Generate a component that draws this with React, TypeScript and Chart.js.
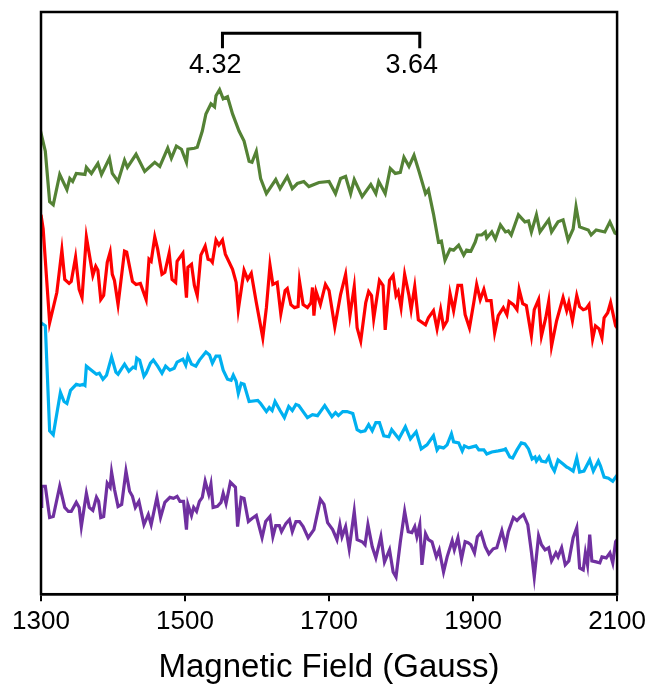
import React, { useEffect, useRef } from "react";
import { Chart, registerables } from "chart.js";

Chart.register(...registerables);

const xTicks = [1300, 1500, 1700, 1900, 2100];
const axisTitle = "Magnetic Field (Gauss)";

const greenField = [
  1300, 1301, 1306, 1312, 1317, 1326, 1336, 1340, 1344, 1349, 1361, 1363,
  1370, 1379, 1384, 1395, 1399, 1407, 1416, 1420, 1432, 1444,
  1458, 1465, 1476, 1481, 1488, 1495, 1502, 1504, 1513, 1517,
  1524, 1529, 1536, 1541, 1543, 1548, 1553, 1559, 1566, 1575,
  1582, 1589, 1593, 1599, 1605, 1613, 1626, 1632, 1642, 1649,
  1656, 1665, 1672, 1686, 1700, 1709, 1716, 1723, 1730, 1735,
  1746, 1758, 1765, 1769, 1778, 1785, 1792, 1799, 1804, 1811,
  1818, 1825, 1834, 1838, 1845, 1852, 1856, 1861, 1868, 1873,
  1880, 1887, 1891, 1897, 1903, 1906, 1912, 1917, 1919, 1926,
  1931, 1938, 1945, 1949, 1953, 1963, 1972, 1977, 1981, 1988,
  1993, 2005, 2009, 2018, 2025, 2032, 2039, 2043, 2048, 2060,
  2064, 2071, 2083, 2090, 2097, 2100,
];
const greenSignal = [
  449, 454, 439, 389, 386, 416, 401, 412, 409, 417, 416, 423,
  417, 427, 416, 432, 417, 409, 430, 423, 436, 419,
  428, 424, 442, 432, 444, 441, 428, 441, 442, 443,
  459, 476, 486, 483, 494, 500, 491, 493, 476, 459,
  449, 429, 428, 439, 412, 397, 411, 402, 414, 402,
  407, 409, 404, 408, 409, 397, 412, 414, 397, 411,
  394, 406, 397, 409, 397, 422, 417, 418, 433, 424,
  435, 419, 397, 401, 377, 349, 350, 331, 342, 341,
  346, 336, 341, 340, 349, 356, 356, 359, 353, 359,
  352, 366, 359, 360, 356, 376, 369, 370, 359, 376,
  359, 371, 359, 369, 371, 351, 362, 384, 364, 361,
  356, 361, 359, 369, 358, 357,
];

const redField = [
  1300, 1303, 1312, 1322, 1329, 1333, 1339, 1342, 1348, 1353,
  1357, 1363, 1372, 1376, 1379, 1383, 1387, 1392, 1396, 1399,
  1402, 1407, 1416, 1419, 1427, 1432, 1438, 1446, 1450, 1453,
  1458, 1462, 1468, 1472, 1478, 1482, 1487, 1489, 1497, 1502,
  1504, 1509, 1513, 1517, 1522, 1528, 1532, 1536, 1538, 1543,
  1547, 1552, 1556, 1566, 1571, 1574, 1582, 1587, 1592, 1599,
  1608, 1613, 1618, 1622, 1628, 1633, 1639, 1642, 1647, 1652,
  1657, 1659, 1664, 1670, 1675, 1677, 1679, 1682, 1688, 1695,
  1700, 1708, 1716, 1723, 1729, 1735, 1739, 1744, 1751, 1755,
  1759, 1762, 1770, 1775, 1778, 1784, 1789, 1793, 1796, 1800,
  1805, 1811, 1814, 1819, 1824, 1834, 1838, 1845, 1850, 1855,
  1859, 1864, 1868, 1873, 1879, 1884, 1889, 1895, 1901, 1905,
  1910, 1915, 1919, 1925, 1930, 1935, 1942, 1947, 1950, 1956,
  1961, 1964, 1969, 1974, 1981, 1985, 1991, 1995, 2001, 2005,
  2009, 2016, 2025, 2030, 2033, 2038, 2044, 2048, 2053, 2057,
  2061, 2066, 2070, 2075, 2079, 2082, 2087, 2091, 2098, 2100,
];
const redSignal = [
  376, 362, 269, 299, 341, 312, 308, 310, 334, 302,
  294, 354, 316, 325, 321, 292, 296, 329, 339, 317,
  311, 287, 340, 339, 310, 307, 308, 292, 332, 330,
  354, 342, 317, 319, 338, 312, 309, 330, 338, 294,
  324, 327, 306, 296, 336, 345, 332, 331, 329, 351,
  346, 351, 337, 322, 309, 282, 321, 312, 318, 289,
  254, 284, 326, 307, 309, 278, 301, 303, 287, 284,
  285, 310, 287, 284, 289, 304, 276, 300, 287, 307,
  301, 265, 297, 317, 276, 305, 264, 251, 289, 300,
  296, 273, 311, 306, 262, 311, 316, 296, 300, 284,
  317, 296, 282, 305, 272, 267, 274, 281, 263, 282,
  265, 271, 298, 281, 306, 306, 277, 264, 289, 307,
  292, 302, 291, 291, 259, 276, 284, 277, 290, 287,
  282, 302, 288, 286, 256, 282, 292, 256, 274, 290,
  246, 271, 294, 281, 289, 271, 296, 285, 282, 283,
  287, 253, 266, 263, 254, 274, 279, 289, 266, 264,
];

const cyanField = [
  1300, 1306, 1312, 1317, 1322, 1327, 1332, 1336, 1341, 1349,
  1354, 1359, 1361, 1363, 1370, 1377, 1381, 1386, 1391, 1398,
  1404, 1407, 1416, 1422, 1428, 1431, 1433, 1437, 1443, 1446,
  1452, 1456, 1462, 1468, 1473, 1479, 1485, 1489, 1497, 1501,
  1504, 1509, 1515, 1520, 1529, 1534, 1538, 1543, 1548, 1553,
  1559, 1564, 1567, 1571, 1574, 1578, 1582, 1589, 1601, 1605,
  1613, 1617, 1621, 1625, 1632, 1638, 1644, 1649, 1654, 1658,
  1670, 1677, 1684, 1694, 1704, 1709, 1713, 1719, 1725, 1733,
  1739, 1744, 1750, 1755, 1760, 1765, 1770, 1776, 1783, 1787,
  1797, 1806, 1813, 1821, 1828, 1836, 1845, 1850, 1853, 1859,
  1864, 1870, 1873, 1880, 1885, 1888, 1894, 1899, 1904, 1908,
  1915, 1919, 1926, 1935, 1942, 1945, 1951, 1955, 1961, 1967,
  1972, 1977, 1982, 1986, 1988, 1992, 1995, 2001, 2005, 2009,
  2013, 2018, 2025, 2030, 2033, 2039, 2044, 2048, 2054, 2062,
  2067, 2074, 2077, 2082, 2088, 2094, 2099, 2100,
];
const cyanSignal = [
  269, 266, 162, 158, 179, 200, 191, 189, 202, 208,
  207, 208, 207, 226, 222, 218, 219, 213, 217, 235,
  220, 218, 228, 221, 225, 224, 234, 232, 216, 219,
  229, 232, 226, 219, 226, 222, 224, 230, 233, 227,
  236, 228, 226, 232, 240, 237, 229, 236, 236, 222,
  213, 212, 217, 211, 199, 209, 208, 191, 192, 189,
  181, 185, 182, 191, 182, 175, 186, 182, 188, 187,
  175, 178, 177, 187, 176, 180, 177, 181, 181, 179,
  163, 161, 162, 168, 162, 170, 170, 157, 156, 163,
  154, 166, 154, 161, 144, 148, 157, 143, 146, 145,
  148, 159, 151, 150, 142, 147, 145, 146, 147, 143,
  143, 139, 141, 142, 143, 144, 136, 135, 143, 150,
  149, 144, 134, 136, 132, 136, 132, 131, 136, 127,
  122, 133, 129, 126, 125, 122, 135, 121, 122, 133,
  122, 132, 127, 116, 115, 112, 117, 118,
];

const purpleField = [
  1300, 1301, 1306, 1312, 1317, 1326, 1333, 1338, 1342, 1349,
  1353, 1356, 1363, 1367, 1372, 1377, 1380, 1383, 1387, 1392,
  1396, 1398, 1402, 1407, 1412, 1418, 1423, 1427, 1431, 1436,
  1443, 1449, 1453, 1461, 1466, 1472, 1479, 1484, 1489, 1493,
  1498, 1502, 1504, 1509, 1512, 1516, 1520, 1524, 1528, 1533,
  1536, 1539, 1545, 1550, 1553, 1557, 1563, 1570, 1573, 1578,
  1582, 1588, 1593, 1599, 1607, 1612, 1618, 1622, 1626, 1631,
  1634, 1640, 1645, 1649, 1654, 1659, 1664, 1671, 1679, 1688,
  1693, 1698, 1705, 1711, 1715, 1718, 1723, 1728, 1735, 1739,
  1746, 1750, 1754, 1760, 1765, 1772, 1777, 1784, 1789, 1793,
  1799, 1805, 1810, 1815, 1819, 1822, 1826, 1829, 1834, 1838,
  1843, 1849, 1853, 1859, 1864, 1871, 1874, 1879, 1884, 1889,
  1893, 1897, 1902, 1906, 1911, 1917, 1922, 1928, 1933, 1940,
  1945, 1949, 1956, 1961, 1965, 1970, 1976, 1981, 1985, 1991,
  1995, 2000, 2005, 2009, 2015, 2018, 2023, 2028, 2033, 2039,
  2044, 2048, 2053, 2056, 2059, 2062, 2065, 2071, 2076, 2079,
  2085, 2090, 2094, 2098, 2100,
];
const purpleSignal = [
  87, 107, 107, 76, 77, 107, 86, 82, 82, 91,
  86, 67, 100, 86, 83, 96, 92, 76, 77, 110,
  106, 121, 104, 87, 89, 122, 102, 97, 86, 92,
  69, 79, 69, 96, 76, 91, 96, 95, 97, 92,
  92, 64, 89, 78, 86, 82, 92, 96, 112, 99,
  109, 86, 87, 91, 100, 90, 111, 106, 67, 96,
  95, 72, 75, 78, 56, 72, 77, 57, 68, 68,
  62, 70, 74, 62, 72, 72, 67, 56, 64, 94,
  89, 71, 64, 54, 69, 57, 67, 45, 82, 54,
  52, 49, 69, 47, 36, 57, 32, 44, 22, 17,
  52, 82, 62, 61, 67, 57, 69, 29, 60, 54,
  52, 37, 44, 22, 37, 53, 44, 56, 35, 52,
  51, 49, 41, 57, 61, 47, 40, 45, 46, 63,
  48, 62, 76, 73, 76, 79, 69, 42, 17, 58,
  49, 44, 46, 33, 41, 37, 46, 29, 33, 56,
  66, 26, 24, 41, 29, 59, 33, 32, 31, 37,
  36, 41, 31, 52, 54,
];

// g-value bracket annotation
const bracketField = [1552, 1826];
const bracketLabels = ["4.32", "3.64"];
const bracketLabelField = [1542, 1815];
const bracketTop = 556;
const bracketFoot = 541;
const bracketLabelY = 524;

const FONT = "'Liberation Sans', Arial, Helvetica, sans-serif";

const toPoints = (f: number[], s: number[]) => f.map((x, i) => ({ x, y: s[i] }));

const framePlugin = {
  id: "frameAndBracket",
  afterDatasetsDraw(chart: any) {
    const { ctx, chartArea, scales } = chart;
    const xs = scales.x;
    const ys = scales.y;
    ctx.save();
    ctx.strokeStyle = "#000";
    ctx.lineWidth = 2.5;
    ctx.strokeRect(
      chartArea.left,
      chartArea.top,
      chartArea.right - chartArea.left,
      chartArea.bottom - chartArea.top
    );
    const x1 = xs.getPixelForValue(bracketField[0]);
    const x2 = xs.getPixelForValue(bracketField[1]);
    const yt = ys.getPixelForValue(bracketTop);
    const yb = ys.getPixelForValue(bracketFoot);
    ctx.lineWidth = 3;
    ctx.lineJoin = "miter";
    ctx.beginPath();
    ctx.moveTo(x1, yb);
    ctx.lineTo(x1, yt);
    ctx.lineTo(x2, yt);
    ctx.lineTo(x2, yb);
    ctx.stroke();
    ctx.fillStyle = "#000";
    ctx.font = `27px ${FONT}`;
    ctx.textAlign = "center";
    ctx.textBaseline = "middle";
    bracketLabels.forEach((t, i) => {
      ctx.fillText(t, xs.getPixelForValue(bracketLabelField[i]), ys.getPixelForValue(bracketLabelY));
    });
    ctx.restore();
  },
};

export default function App() {
  const ref = useRef<HTMLCanvasElement | null>(null);
  useEffect(() => {
    if (!ref.current) return;
    const common = { pointRadius: 0, borderWidth: 3.2, tension: 0, fill: false };
    const chart = new Chart(ref.current, {
      type: "line",
      data: {
        datasets: [
          { ...common, label: "green", data: toPoints(greenField, greenSignal), borderColor: "#548235" },
          { ...common, label: "red", data: toPoints(redField, redSignal), borderColor: "#FF0000" },
          { ...common, label: "cyan", data: toPoints(cyanField, cyanSignal), borderColor: "#00B0F0" },
          { ...common, label: "purple", data: toPoints(purpleField, purpleSignal), borderColor: "#7030A0" },
        ],
      },
      options: {
        animation: false,
        responsive: false,
        layout: { padding: { left: 41, right: 28, top: 12, bottom: -4 } },
        plugins: { legend: { display: false }, tooltip: { enabled: false } },
        scales: {
          x: {
            type: "linear",
            min: 1300,
            max: 2100,
            afterBuildTicks: (s: any) => {
              s.ticks = xTicks.map((v) => ({ value: v }));
            },
            grid: { drawOnChartArea: false, drawTicks: true, tickLength: 7, color: "#000", lineWidth: 2 },
            border: { display: true, color: "#000", width: 2.5 },
            ticks: {
              color: "#000",
              font: { family: FONT, size: 26, lineHeight: 1.2 },
              padding: 5,
              maxRotation: 0,
              autoSkip: false,
              callback: (v: any) => String(v),
            },
            title: {
              display: true,
              text: axisTitle,
              color: "#000",
              font: { family: FONT, size: 33, lineHeight: 1.2 },
              padding: { top: 6, bottom: 0 },
            },
          },
          y: { display: false, min: 0, max: 577 },
        },
      },
      plugins: [framePlugin],
    });
    return () => chart.destroy();
  }, []);
  return (
    <div style={{ position: "fixed", left: 0, top: 0, width: 651, height: 684, background: "#fff" }}>
      <canvas ref={ref} width={651} height={684} style={{ display: "block" }} />
    </div>
  );
}
